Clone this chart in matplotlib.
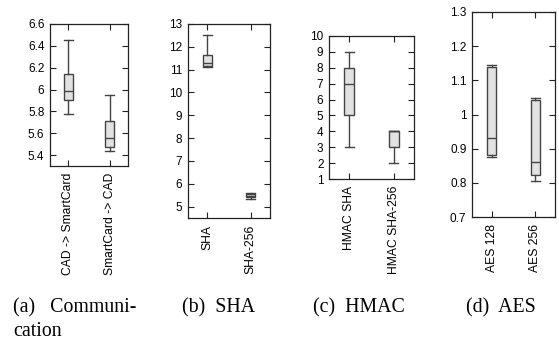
import matplotlib.pyplot as plt
from matplotlib.ticker import FormatStrFormatter

plt.rcParams['font.family'] = ['Liberation Sans', 'DejaVu Sans']

# box stats per panel: whisker low, q1, median, q3, whisker high
comm_labels = ['CAD -> SmartCard', 'SmartCard -> CAD']
comm_stats = [[5.78, 5.90, 5.99, 6.14, 6.45],
              [5.44, 5.47, 5.56, 5.71, 5.95]]

sha_labels = ['SHA', 'SHA-256']
sha_stats = [[11.1, 11.18, 11.3, 11.65, 12.5],
             [5.35, 5.42, 5.48, 5.55, 5.6]]

hmac_labels = ['HMAC SHA', 'HMAC SHA-256']
hmac_stats = [[3, 5, 7, 8, 9],
              [2, 3, 4, 4, 4]]

aes_labels = ['AES 128', 'AES 256']
aes_stats = [[0.875, 0.882, 0.93, 1.14, 1.145],
             [0.805, 0.822, 0.862, 1.042, 1.047]]

captions = ['(a)   Communi-\ncation', '(b)  SHA', '(c)  HMAC', '(d)  AES']

W, H = 559, 341
fig = plt.figure(figsize=(W / 100, H / 100), dpi=100)

def make_axes(l, r, t, b):
    return fig.add_axes([l / W, 1 - b / H, (r - l) / W, (b - t) / H])

def panel(ax, labels, stats, ylim, yticks):
    bxs = []
    for lab, s in zip(labels, stats):
        bxs.append({'label': lab, 'whislo': s[0], 'q1': s[1], 'med': s[2],
                    'q3': s[3], 'whishi': s[4], 'fliers': []})
    edge = '#444444'
    ax.bxp(bxs, positions=[1, 2], widths=0.22, capwidths=0.2, patch_artist=True,
           showfliers=False,
           boxprops=dict(facecolor='#e2e2e2', edgecolor=edge, linewidth=1.0),
           medianprops=dict(color=edge, linewidth=1.0),
           whiskerprops=dict(color=edge, linewidth=1.0),
           capprops=dict(color=edge, linewidth=1.0))
    ax.set_xlim(0.55, 2.45)
    ax.set_ylim(*ylim)
    ax.set_yticks(yticks)
    ax.yaxis.set_major_formatter(FormatStrFormatter('%g'))
    ax.set_xticks([1, 2])
    ax.set_xticklabels(labels, rotation=90, fontsize=8.7)
    ax.tick_params(axis='both', direction='in', length=4, width=0.8,
                   top=True, right=True, labelsize=8.5, color='#222222', pad=4)
    ax.tick_params(axis='x', labelsize=8.7, pad=5)
    for sp in ax.spines.values():
        sp.set_linewidth(0.9)
        sp.set_color('#222222')

ax1 = make_axes(50, 128, 24, 166)
panel(ax1, comm_labels, comm_stats, (5.3, 6.6), [5.4, 5.6, 5.8, 6.0, 6.2, 6.4, 6.6])
ax2 = make_axes(188, 270, 24, 218)
panel(ax2, sha_labels, sha_stats, (4.5, 13), list(range(5, 14)))
ax3 = make_axes(329, 414, 36, 179)
panel(ax3, hmac_labels, hmac_stats, (1, 10), list(range(1, 11)))
ax4 = make_axes(472, 555, 12, 217)
panel(ax4, aes_labels, aes_stats, (0.7, 1.3), [0.7, 0.8, 0.9, 1.0, 1.1, 1.2, 1.3])

# subcaptions below each panel (one text per line so baselines line up)
cap_x = [13, 182, 313, 466]
for x, c in zip(cap_x, captions):
    for i, line in enumerate(c.split('\n')):
        fig.text(x / W, 1 - (312 + 24 * i) / H, line, ha='left', va='baseline',
                 fontsize=14.3, family=['Liberation Serif', 'DejaVu Serif'])

fig.savefig('out.png', dpi=100)
